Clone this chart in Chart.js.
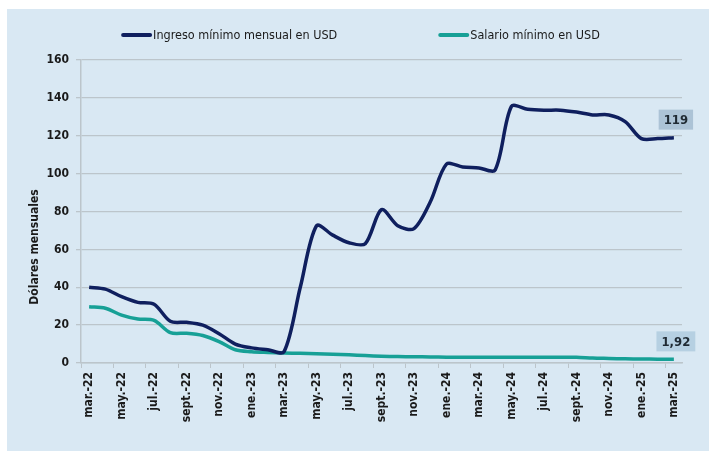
<!DOCTYPE html>
<html>
<head>
<meta charset="utf-8">
<script src="https://cdn.jsdelivr.net/npm/chart.js@4.4.1/dist/chart.umd.min.js"></script>
<style>
  body { margin: 0; background: #ffffff; }
  #wrap { width: 709px; height: 453px; position: relative; }
</style>
</head>
<body>
<div id="wrap"><canvas id="myChart"></canvas></div>
<script>
const months = ["mar.-22","abr.-22","may.-22","jun.-22","jul.-22","ago.-22","sept.-22","oct.-22","nov.-22","dic.-22",
  "ene.-23","feb.-23","mar.-23","abr.-23","may.-23","jun.-23","jul.-23","ago.-23","sept.-23","oct.-23","nov.-23","dic.-23",
  "ene.-24","feb.-24","mar.-24","abr.-24","may.-24","jun.-24","jul.-24","ago.-24","sept.-24","oct.-24","nov.-24","dic.-24",
  "ene.-25","feb.-25","mar.-25"];

const ingreso = [40, 39, 35, 32, 31, 22, 21.5, 20, 15.5, 10, 8, 7, 6, 40, 72.5, 67.5, 63.5, 63, 81, 72.5, 71, 85,
  105, 103.5, 103, 102, 135.5, 134, 133.5, 133.5, 132.5, 131, 131, 127.5, 118.5, 118.5, 119];

const salario = [29.7, 28.9, 25.3, 23.2, 22.5, 16, 15.7, 14.5, 11.3, 7, 6, 5.6, 5.3, 5.1, 4.9, 4.6, 4.3, 3.9, 3.6, 3.4,
  3.3, 3.2, 3.1, 3.0, 3.0, 3.0, 3.0, 3.0, 3.0, 3.0, 3.0, 2.6, 2.4, 2.2, 2.1, 2.0, 1.92];

const lastLabels = ["119", "1,92"];
const yTicks = [0, 20, 40, 60, 80, 100, 120, 140, 160];

const FONT = "'DejaVu Sans Condensed', 'DejaVu Sans', sans-serif";
const navy = "#0f1f5e";
const teal = "#17a096";
const gridCol = "#bcc5cb";

const ctx = document.getElementById("myChart");

// blue panel behind the chart
const panelBg = {
  id: "panelBg",
  beforeDraw(chart) {
    const c = chart.ctx;
    c.save();
    c.fillStyle = "#d9e8f3";
    c.fillRect(7, 9, 702, 442);
    c.restore();
  }
};

// legend on top, drawn by hand so the spacing matches
const topLegend = {
  id: "topLegend",
  afterDraw(chart) {
    const c = chart.ctx;
    c.save();
    c.font = "12.5px " + FONT;
    c.textBaseline = "middle";
    const items = chart.data.datasets.map(ds => ({ text: ds.label, color: ds.borderColor, w: 31 + c.measureText(ds.label).width }));
    const gap = 102;
    let total = items.reduce((s, it) => s + it.w, 0) + gap * (items.length - 1);
    let x = 361 - total / 2;
    const y = 35;
    items.forEach(it => {
      c.strokeStyle = it.color;
      c.lineWidth = 4;
      c.lineCap = "round";
      c.beginPath();
      c.moveTo(x + 1, y);
      c.lineTo(x + 28, y);
      c.stroke();
      c.fillStyle = "#1a1a1a";
      c.fillText(it.text, x + 31, y + 1);
      x += it.w + gap;
    });
    c.restore();
  }
};

// y axis title
const yTitle = {
  id: "yTitle",
  afterDraw(chart) {
    const c = chart.ctx;
    c.save();
    c.translate(35, 247);
    c.rotate(-Math.PI / 2);
    c.font = "bold 12px " + FONT;
    c.fillStyle = "#1a1a1a";
    c.textAlign = "center";
    c.textBaseline = "middle";
    c.fillText("Dólares mensuales", 0, 0);
    c.restore();
  }
};

// boxes with the last value
const endLabels = {
  id: "endLabels",
  afterDatasetsDraw(chart) {
    const c = chart.ctx;
    c.save();
    c.font = "bold 13px " + FONT;
    c.textAlign = "center";
    c.textBaseline = "middle";
    const boxCols = ["#acc3d6", "#b6d0e2"];
    chart.data.datasets.forEach((ds, i) => {
      const meta = chart.getDatasetMeta(i);
      const pt = meta.data[meta.data.length - 1];
      const txt = lastLabels[i];
      const w = c.measureText(txt).width + 10;
      const cx = pt.x + 2, cy = pt.y - 18;
      c.fillStyle = boxCols[i];
      c.fillRect(cx - w / 2, cy - 10, w, 20);
      c.fillStyle = "#1f2a33";
      c.fillText(txt, cx, cy + 1);
    });
    c.restore();
  }
};

new Chart(ctx, {
  type: "line",
  data: {
    labels: months,
    datasets: [
      {
        label: "Ingreso mínimo mensual en USD",
        data: ingreso,
        borderColor: navy,
        borderWidth: 3.5,
        pointRadius: 0,
        tension: 0.3,
      },
      {
        label: "Salario mínimo en USD",
        data: salario,
        borderColor: teal,
        borderWidth: 3.5,
        pointRadius: 0,
        tension: 0.3,
      },
    ],
  },
  options: {
    responsive: true,
    maintainAspectRatio: false,
    animation: false,
    layout: { padding: { left: 7, top: 60, right: 27, bottom: 0 } },
    plugins: {
      legend: { display: false },
      tooltip: { enabled: false },
    },
    scales: {
      x: {
        offset: true,
        grid: {
          offset: true,
          drawOnChartArea: false,
          drawTicks: true,
          tickLength: 5,
          color: (c) => (c.index % 2 === 0 ? gridCol : "rgba(0,0,0,0)"),
        },
        border: { color: gridCol, width: 1.5 },
        ticks: {
          autoSkip: false,
          maxRotation: 90,
          minRotation: 90,
          padding: 4,
          color: "#1a1a1a",
          font: { family: FONT, size: 12, weight: "bold" },
          callback: function (val, i) {
            return i % 2 === 0 ? months[i] : "";
          },
        },
        afterFit: (scale) => { scale.height = 90; },
      },
      y: {
        min: yTicks[0],
        max: yTicks[yTicks.length - 1],
        grid: { color: gridCol, tickLength: 5, lineWidth: 1.3 },
        border: { color: gridCol, width: 1.5 },
        ticks: {
          stepSize: 20,
          padding: 7,
          color: "#1a1a1a",
          font: { family: FONT, size: 12, weight: "bold" },
        },
        afterFit: (scale) => { scale.width = 74; },
      },
    },
  },
  plugins: [panelBg, topLegend, yTitle, endLabels],
});
</script>
</body>
</html>
